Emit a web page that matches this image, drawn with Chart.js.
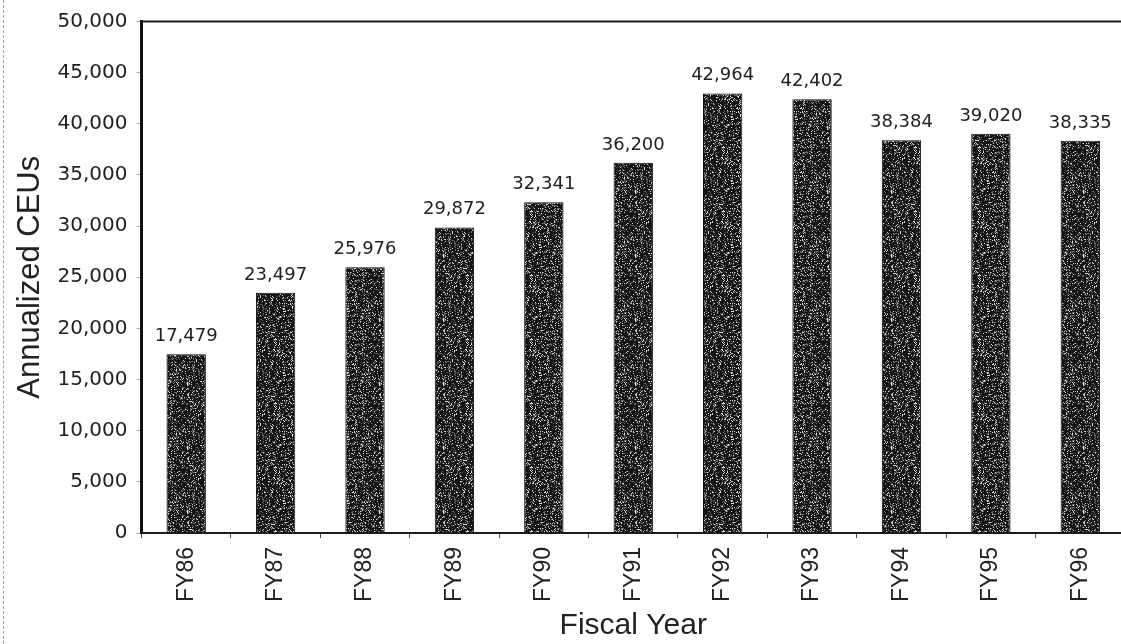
<!DOCTYPE html>
<html>
<head>
<meta charset="utf-8">
<script src="https://cdn.jsdelivr.net/npm/chart.js@4.4.1/dist/chart.umd.min.js"></script>
<style>
  html, body { margin: 0; padding: 0; background: #fff; overflow: hidden; }
  #wrap { position: relative; width: 1125px; height: 644px; }
  #edge { position: absolute; left: 3px; top: 0; height: 644px; border-left: 1px dashed #a0a0a0; }
</style>
</head>
<body>
<div id="wrap"><canvas id="c"></canvas></div>
<div id="edge"></div>
<script>
// Annualized continuing-education units by fiscal year
const fiscalYears = ['FY86', 'FY87', 'FY88', 'FY89', 'FY90', 'FY91', 'FY92', 'FY93', 'FY94', 'FY95', 'FY96'];
const annualizedCEUs = [17479, 23497, 25976, 29872, 32341, 36200, 42964, 42402, 38384, 39020, 38335];
const yAxisMax = 50000;
const yAxisStep = 5000;

const fmt = v => Number(v).toLocaleString('en-US');

// Speckled dark-gray fill for the bars (deterministic seed)
function speckledFill() {
  const size = 64;
  const c = document.createElement('canvas');
  c.width = size; c.height = size;
  const g = c.getContext('2d');
  g.fillStyle = '#141414';
  g.fillRect(0, 0, size, size);
  let seed = 12345;
  const next = () => { seed = (seed * 1103515245 + 12345) % 2147483648; return seed / 2147483648; };
  for (let y = 0; y < size; y++) {
    for (let x = 0; x < size; x++) {
      const r = next();
      if (r < 0.10) { g.fillStyle = '#d8d8d8'; g.fillRect(x, y, 1, 1); }
      else if (r < 0.26) { g.fillStyle = '#6a6a6a'; g.fillRect(x, y, 1, 1); }
    }
  }
  return g.createPattern(c, 'repeat');
}

// Value labels above each bar
const valueLabels = {
  id: 'valueLabels',
  afterDatasetsDraw(chart) {
    const ctx = chart.ctx;
    const meta = chart.getDatasetMeta(0);
    ctx.save();
    ctx.font = '18px "DejaVu Sans"';
    ctx.fillStyle = '#222';
    ctx.textAlign = 'center';
    ctx.textBaseline = 'alphabetic';
    meta.data.forEach((bar, i) => {
      ctx.fillText(fmt(annualizedCEUs[i]), bar.x, bar.y - 13);
    });
    ctx.restore();
  }
};

// Top frame line across the plot
const topFrame = {
  id: 'topFrame',
  afterDraw(chart) {
    const { ctx, chartArea } = chart;
    ctx.save();
    ctx.strokeStyle = '#1a1a1a';
    ctx.lineWidth = 2;
    ctx.beginPath();
    ctx.moveTo(chartArea.left, chartArea.top);
    ctx.lineTo(chartArea.right, chartArea.top);
    ctx.stroke();
    ctx.restore();
  }
};

const ctx = document.getElementById('c').getContext('2d');
new Chart(ctx, {
  type: 'bar',
  data: {
    labels: fiscalYears,
    datasets: [{
      data: annualizedCEUs,
      backgroundColor: speckledFill(),
      borderColor: '#0e0e0e',
      borderWidth: 1,
      categoryPercentage: 1.0,
      barPercentage: 0.44
    }]
  },
  options: {
    responsive: true,
    maintainAspectRatio: false,
    animation: false,
    layout: { padding: { top: 21.5, right: 0, bottom: 0, left: 0 } },
    plugins: { legend: { display: false }, tooltip: { enabled: false } },
    scales: {
      x: {
        type: 'category',
        offset: true,
        grid: { offset: true, drawOnChartArea: false, drawTicks: true, tickLength: 5, color: '#444', lineWidth: 1 },
        border: { display: true, color: '#1a1a1a', width: 2 },
        ticks: {
          autoSkip: false,
          minRotation: 90,
          maxRotation: 90,
          padding: 9,
          color: '#222',
          font: { family: '"Liberation Sans", Arial, sans-serif', size: 23 }
        },
        title: {
          display: true,
          text: 'Fiscal Year',
          color: '#222',
          font: { family: '"Liberation Sans", Arial, sans-serif', size: 30 },
          padding: { top: 0, bottom: 0 }
        },
        afterFit(scale) { scale.height = 111; }
      },
      y: {
        min: 0,
        max: yAxisMax,
        grid: { drawOnChartArea: false, drawTicks: true, tickLength: 5, color: '#aaa', lineWidth: 1 },
        border: { display: true, color: '#111', width: 3 },
        ticks: {
          stepSize: yAxisStep,
          padding: 9,
          color: '#222',
          font: { family: '"DejaVu Sans", sans-serif', size: 20 },
          callback: v => fmt(v)
        },
        title: {
          display: true,
          text: 'Annualized CEUs',
          color: '#222',
          font: { family: '"Liberation Sans", Arial, sans-serif', size: 31 },
          padding: { top: 12, bottom: 0 }
        },
        afterFit(scale) { scale.width = 141.5; }
      }
    }
  },
  plugins: [valueLabels, topFrame]
});
</script>
</body>
</html>
